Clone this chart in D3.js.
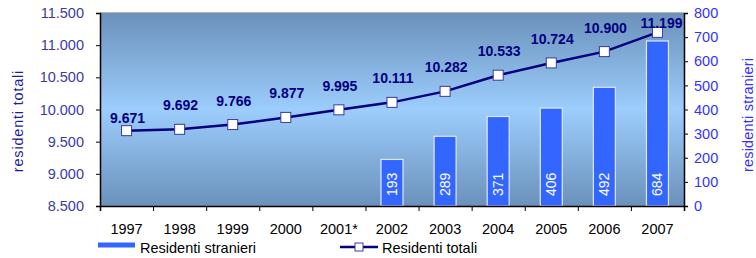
<!DOCTYPE html>
<html>
<head>
<meta charset="utf-8">
<script src="https://cdn.jsdelivr.net/npm/d3@7"></script>
<style>
  body { margin: 0; background: #fff; }
  svg { display: block; font-family: "Liberation Sans", Arial, sans-serif; }
</style>
</head>
<body>
<svg id="viz"></svg>
<script>
let width = 756;
let height = 258;

let years = ["1997", "1998", "1999", "2000", "2001*", "2002", "2003", "2004", "2005", "2006", "2007"];
let totali = [9671, 9692, 9766, 9877, 9995, 10111, 10282, 10533, 10724, 10900, 11199];
let stranieri = [null, null, null, null, null, 193, 289, 371, 406, 492, 684];
let leftTicks = [8500, 9000, 9500, 10000, 10500, 11000, 11500];
let rightTicks = [0, 100, 200, 300, 400, 500, 600, 700, 800];

let plot = { left: 100, right: 684, top: 13, bottom: 206 };
let fontFam = "Liberation Sans, Arial, sans-serif";

let svg = d3.select("#viz")
    .attr("width", width)
    .attr("height", height);

let fmt = d3.formatLocale({ decimal: ",", thousands: ".", grouping: [3], currency: ["", "€"] }).format(",.0f");

let x = d3.scaleBand()
    .domain(years)
    .range([plot.left, plot.right]);
let yLeft = d3.scaleLinear()
    .domain([8500, 11500])
    .range([plot.bottom, plot.top]);
let yRight = d3.scaleLinear()
    .domain([0, 800])
    .range([plot.bottom, plot.top]);

// background gradient
let grad = svg.append("defs").append("linearGradient")
    .attr("id", "bg")
    .attr("x1", 0).attr("y1", 0).attr("x2", 0).attr("y2", 1);
grad.append("stop").attr("offset", "0%").attr("stop-color", "#6b91bb");
grad.append("stop").attr("offset", "50%").attr("stop-color", "#9ccdfc");
grad.append("stop").attr("offset", "100%").attr("stop-color", "#6b91bb");

svg.append("rect")
    .attr("x", plot.left)
    .attr("y", plot.top)
    .attr("width", plot.right - plot.left)
    .attr("height", plot.bottom - plot.top)
    .attr("fill", "url(#bg)");

svg.append("line")
    .attr("x1", plot.left).attr("x2", plot.right)
    .attr("y1", plot.top - 0.5).attr("y2", plot.top - 0.5)
    .attr("stroke", "#b8b8b8");

// bars
let barW = 22;
let barData = years.map((d, i) => ({ year: d, value: stranieri[i] })).filter(d => d.value != null);

svg.selectAll("rect.bar")
    .data(barData)
    .enter().append("rect")
    .attr("class", "bar")
    .attr("x", d => x(d.year) + x.bandwidth() / 2 - barW / 2)
    .attr("y", d => yRight(d.value))
    .attr("width", barW)
    .attr("height", d => yRight(0) - yRight(d.value))
    .attr("fill", "#3366ff")
    .attr("stroke", "#dde8ff")
    .attr("stroke-width", 1.2);

svg.selectAll("text.barlabel")
    .data(barData)
    .enter().append("text")
    .attr("class", "barlabel")
    .attr("transform", d => "translate(" + (x(d.year) + x.bandwidth() / 2 + 5) + "," + (yRight(0) - 10) + ") rotate(-90)")
    .attr("fill", "#ffffff")
    .attr("font-size", 14)
    .text(d => d.value);

// line
let pts = years.map((d, i) => ({ year: d, value: totali[i] }));
let line = d3.line()
    .x(d => x(d.year) + x.bandwidth() / 2)
    .y(d => yLeft(d.value));

svg.append("path")
    .datum(pts)
    .attr("d", line)
    .attr("fill", "none")
    .attr("stroke", "#000080")
    .attr("stroke-width", 2.5);

svg.selectAll("rect.marker")
    .data(pts)
    .enter().append("rect")
    .attr("class", "marker")
    .attr("x", d => x(d.year) + x.bandwidth() / 2 - 5)
    .attr("y", d => yLeft(d.value) - 5)
    .attr("width", 10)
    .attr("height", 10)
    .attr("fill", "#ffffff")
    .attr("stroke", "#3a3aa0")
    .attr("stroke-width", 1);

svg.selectAll("text.ptlabel")
    .data(pts)
    .enter().append("text")
    .attr("class", "ptlabel")
    .attr("x", (d, i) => x(d.year) + x.bandwidth() / 2 + (i == pts.length - 1 ? 4 : 1))
    .attr("y", function(d, i) {
        let yy = yLeft(d.value) - 19;
        if (i == 0) yy = yLeft(d.value) - 8;
        return Math.max(yy, plot.top + 15);
    })
    .attr("text-anchor", "middle")
    .attr("font-size", 14)
    .attr("font-weight", "bold")
    .attr("fill", "#000080")
    .text(d => fmt(d.value));

// axes
let axisLeft = svg.append("g")
    .attr("transform", "translate(" + plot.left + ",0)")
    .call(d3.axisLeft(yLeft).tickValues(leftTicks).tickFormat(fmt).tickSizeOuter(0).tickSize(4).tickPadding(12));
axisLeft.select(".domain").attr("stroke", "#000").attr("stroke-width", 1.5);
axisLeft.selectAll("text").attr("fill", "#3c3ca0").attr("font-size", 14.5).attr("font-family", fontFam);

let axisRight = svg.append("g")
    .attr("transform", "translate(" + plot.right + ",0)")
    .call(d3.axisRight(yRight).tickValues(rightTicks).tickSizeOuter(0).tickSize(4).tickPadding(6));
axisRight.select(".domain").attr("stroke", "#000").attr("stroke-width", 1.5);
axisRight.selectAll("text").attr("fill", "#3333ff").attr("font-size", 14.5).attr("font-family", fontFam);

let xBound = d3.scaleLinear().domain([0, years.length]).range([plot.left, plot.right]);
let axisBottom = svg.append("g")
    .attr("transform", "translate(0," + plot.bottom + ")")
    .call(d3.axisBottom(xBound).tickValues(d3.range(years.length + 1)).tickFormat("").tickSizeOuter(0).tickSize(5));
axisBottom.select(".domain").attr("stroke", "#000").attr("stroke-width", 1.5);

svg.append("g")
    .selectAll("text")
    .data(years)
    .enter().append("text")
    .attr("x", d => x(d) + x.bandwidth() / 2)
    .attr("y", plot.bottom + 28)
    .attr("text-anchor", "middle")
    .attr("font-size", 14.5)
    .attr("fill", "#000")
    .text(d => d);

// axis titles
svg.append("text")
    .attr("transform", "translate(23,121) rotate(-90)")
    .attr("text-anchor", "middle")
    .attr("font-size", 14.5)
    .attr("letter-spacing", 0.8)
    .attr("fill", "#1e1e96")
    .text("residenti totali");

svg.append("text")
    .attr("transform", "translate(753,115) rotate(-90)")
    .attr("text-anchor", "middle")
    .attr("font-size", 14.5)
    .attr("letter-spacing", 0.2)
    .attr("fill", "#3333ff")
    .text("residenti stranieri");

// legend
let legend = svg.append("g");
legend.append("rect")
    .attr("x", 98).attr("y", 242.5)
    .attr("width", 37).attr("height", 5)
    .attr("fill", "#3366ff");
legend.append("text")
    .attr("x", 140).attr("y", 252.5)
    .attr("font-size", 14.5)
    .text("Residenti stranieri");
legend.append("line")
    .attr("x1", 340).attr("x2", 378)
    .attr("y1", 247).attr("y2", 247)
    .attr("stroke", "#000080").attr("stroke-width", 2.5);
legend.append("rect")
    .attr("x", 355).attr("y", 243)
    .attr("width", 8).attr("height", 8)
    .attr("fill", "#fff").attr("stroke", "#3a3aa0");
legend.append("text")
    .attr("x", 382).attr("y", 252.5)
    .attr("font-size", 14.5)
    .text("Residenti totali");
</script>
</body>
</html>
